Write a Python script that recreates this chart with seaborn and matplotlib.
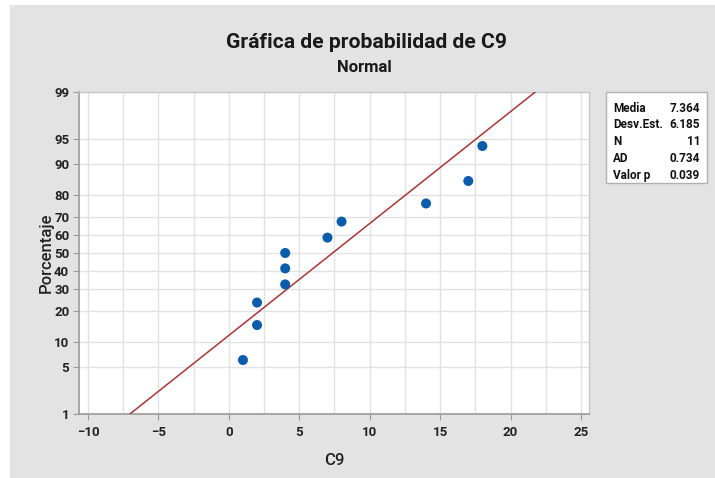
import numpy as np
import matplotlib
matplotlib.use("Agg")
import matplotlib.pyplot as plt
from matplotlib.patches import Rectangle
import seaborn as sns
from statistics import NormalDist

# data (sorted C9 values and their plotting percentiles)
c9_values = [1, 2, 2, 4, 4, 4, 7, 8, 14, 17, 18]
percentiles = [6.1, 14.9, 23.7, 32.5, 41.2, 50.0, 58.8, 67.5, 76.3, 85.1, 93.9]
y_ticks = [1, 5, 10, 20, 30, 40, 50, 60, 70, 80, 90, 95, 99]
x_ticks = [-10, -5, 0, 5, 10, 15, 20, 25]
stat_labels = ["Media", "Desv.Est.", "N", "AD", "Valor p"]
stat_values = ["7.364", "6.185", "11", "0.734", "0.039"]

mean = 7.364
sd = 6.185

sns.set_style("white")
plt.rcParams['font.family'] = ['Roboto', 'DejaVu Sans']

nd = NormalDist()
_ppf = np.vectorize(lambda p: nd.inv_cdf(p), otypes=[float])
_cdf = np.vectorize(lambda z: nd.cdf(z), otypes=[float])


def to_z(p):
    p = np.clip(np.asarray(p, dtype=float), 1e-6, 100 - 1e-6)
    return _ppf(p / 100.0)


def from_z(z):
    return _cdf(np.asarray(z, dtype=float)) * 100.0


fig = plt.figure(figsize=(7.15, 4.78), dpi=100)
fig.patch.set_facecolor("white")
fig.patches.append(Rectangle((10 / 715, 0), 705 / 715, 1 - 5 / 478,
                             transform=fig.transFigure, facecolor="#e3e3e3",
                             edgecolor="none", zorder=-5))

ax = fig.add_axes([79 / 715, 1 - 414 / 478, 510 / 715, 322 / 478])
ax.set_facecolor("white")
ax.set_yscale("function", functions=(to_z, from_z))

# fitted normal line from 1% to 99%
line_x = [mean + sd * nd.inv_cdf(0.01), mean + sd * nd.inv_cdf(0.99)]
sns.lineplot(x=line_x, y=[1, 99], ax=ax, color="#ac3434", linewidth=1.1, zorder=3)
sns.scatterplot(x=c9_values, y=percentiles, ax=ax, color="#0b5cad", s=52,
                edgecolor="none", zorder=4)

ax.set_xlim(-10.64, 25.57)
ax.set_ylim(1, 99)
ax.set_yticks(y_ticks)
ax.set_yticklabels([str(t) for t in y_ticks])
ax.set_xticks(x_ticks)
ax.set_xticks(np.arange(-10, 25.1, 2.5), minor=True)
ax.grid(True, which="both", axis="x", color="#e2e2e2", linewidth=1)
ax.grid(True, which="major", axis="y", color="#e2e2e2", linewidth=1)
ax.set_axisbelow(True)
ax.tick_params(axis="both", which="major", labelsize=9.5, length=4, color="#999999",
               direction="out", left=True, bottom=True, pad=3)
ax.tick_params(axis="x", which="major", pad=5)
ax.tick_params(axis="x", which="minor", length=0)
for lab in ax.get_xticklabels() + ax.get_yticklabels():
    lab.set_fontweight("bold")
    lab.set_color("#222222")
for side in ["left", "bottom"]:
    ax.spines[side].set_color("#9a9a9a")
    ax.spines[side].set_linewidth(1.2)
for side in ["top", "right"]:
    ax.spines[side].set_color("#c8c8c8")
    ax.spines[side].set_linewidth(1)

ax.set_xlabel("C9", fontsize=12, fontweight="medium", labelpad=10, color="#222222")
ax.set_ylabel("Porcentaje", fontsize=12, fontweight="medium", labelpad=0, color="#222222")

fig.text(367 / 715, 1 - 43 / 478, "Gráfica de probabilidad de C9", ha="center",
         va="center", fontsize=15.2, fontweight="bold", color="#1a1a1a")
fig.text(364 / 715, 1 - 67 / 478, "Normal", ha="center", va="center",
         fontsize=12, fontweight="bold", color="#1a1a1a")

# statistics box
fig.patches.append(Rectangle((606 / 715, 1 - 183 / 478), 101 / 715, 91 / 478,
                             transform=fig.transFigure, facecolor="white",
                             edgecolor="#b0b0b0", linewidth=1, zorder=2))
for i, (lab, val) in enumerate(zip(stat_labels, stat_values)):
    y = 1 - (108 + 16.8 * i) / 478
    fig.text(613 / 715, y, lab, ha="left", va="center", fontsize=8.5,
             fontweight="bold", color="#111111", zorder=3)
    fig.text(700 / 715, y, val, ha="right", va="center", fontsize=8.5,
             fontweight="bold", color="#111111", zorder=3)

fig.savefig("out.png", dpi=100)
